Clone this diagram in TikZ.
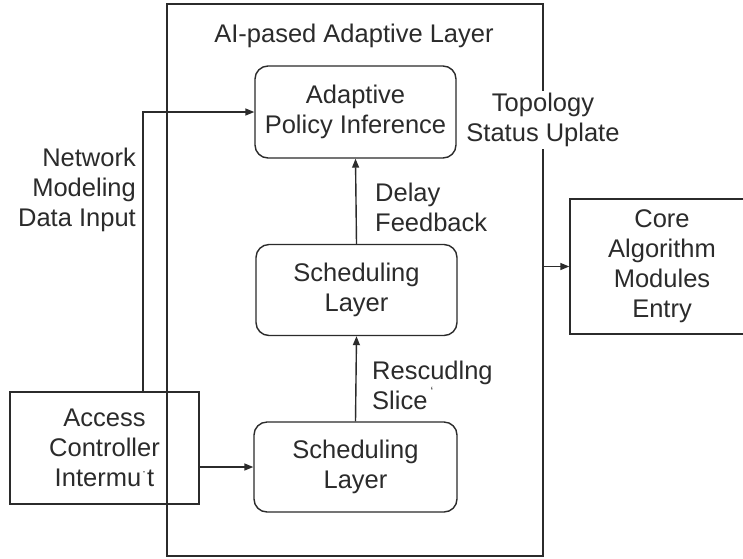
\documentclass[tikz,border=0pt]{standalone}
\usepackage{fontspec}
\setmainfont{Liberation Sans}
\usetikzlibrary{arrows.meta}
\definecolor{ink}{HTML}{2B2B2B}
\tikzset{
  base/.style={font=\fontsize{25.5}{30}\selectfont, text=ink},
  box/.style={base, draw=ink, line width=1.4pt, align=center, inner sep=0pt},
  rbox/.style={box, rounded corners=13pt},
  lbl/.style={base, inner sep=1pt},
  conn/.style={draw=ink, line width=1.4pt, -{Triangle[length=9pt,width=7pt]}},
  wire/.style={draw=ink, line width=1.4pt}
}
\begin{document}
\begin{tikzpicture}[x=1pt, y=-1pt]
  \useasboundingbox (0,0) rectangle (743,558);
  \clip (0,0) rectangle (743,558);
  \fill[white] (0,0) rectangle (743,558);

  % enclosing adaptive layer
  \node[box, minimum width=376pt, minimum height=552pt] (layer) at (355,280) {};
  \node[lbl] (title) at (354,36) {AI-pased Adaptive Layer};

  % blocks inside the layer
  \node[rbox, minimum width=201pt, minimum height=92pt] (api) at (355.5,112)
    {Adaptive\\Policy Inference};
  \node[rbox, minimum width=201pt, minimum height=91pt] (sched2) at (356.5,290)
    {Scheduling\\Layer};
  \node[rbox, minimum width=203pt, minimum height=90pt] (sched1) at (355.5,467)
    {Scheduling\\Layer};

  % outside blocks
  \node[box, minimum width=189pt, minimum height=112pt] (access) at (104.5,448)
    {Access\\Controller\\Intermu\kern1pt\raisebox{0.42em}{\fontsize{12}{12}\selectfont ·}\kern1pt t};
  \node[box, minimum width=184pt, minimum height=135pt] (core) at (662,266.5)
    {Core\\Algorithm\\Modules\\Entry};

  % connectors
  \coordinate (netfoot) at ([xshift=38.5pt]access.north);
  \draw[conn] (netfoot) |- (api.west);
  \draw[conn] (access.east |- sched1.west) -- (sched1.west);
  \draw[conn] (sched1.north) -- (sched2.south);
  \draw[conn] (sched2.north) -- (api.south);
  \draw[conn] (layer.east |- core.west) -- (core.west);

  % connector labels
  \node[lbl, align=right, anchor=east] (netlbl) at (137,190)
    {Network\\Modeling\hspace*{10pt}\\Data Input};
  \node[lbl, align=left, anchor=west] (delay) at (374,207)
    {Delay\\Feedback};
  \node[lbl, align=left, anchor=west] (resc) at (371,385)
    {Rescudlng\\Slice};
  \node[base, font=\fontsize{12}{12}\selectfont, inner sep=0pt] (tick) at (432,391) {`};
  \node[lbl, align=center, fill=white, inner sep=2pt] (topo) at (543,120)
    {Topology\\Status Uplate};
\end{tikzpicture}
\end{document}
